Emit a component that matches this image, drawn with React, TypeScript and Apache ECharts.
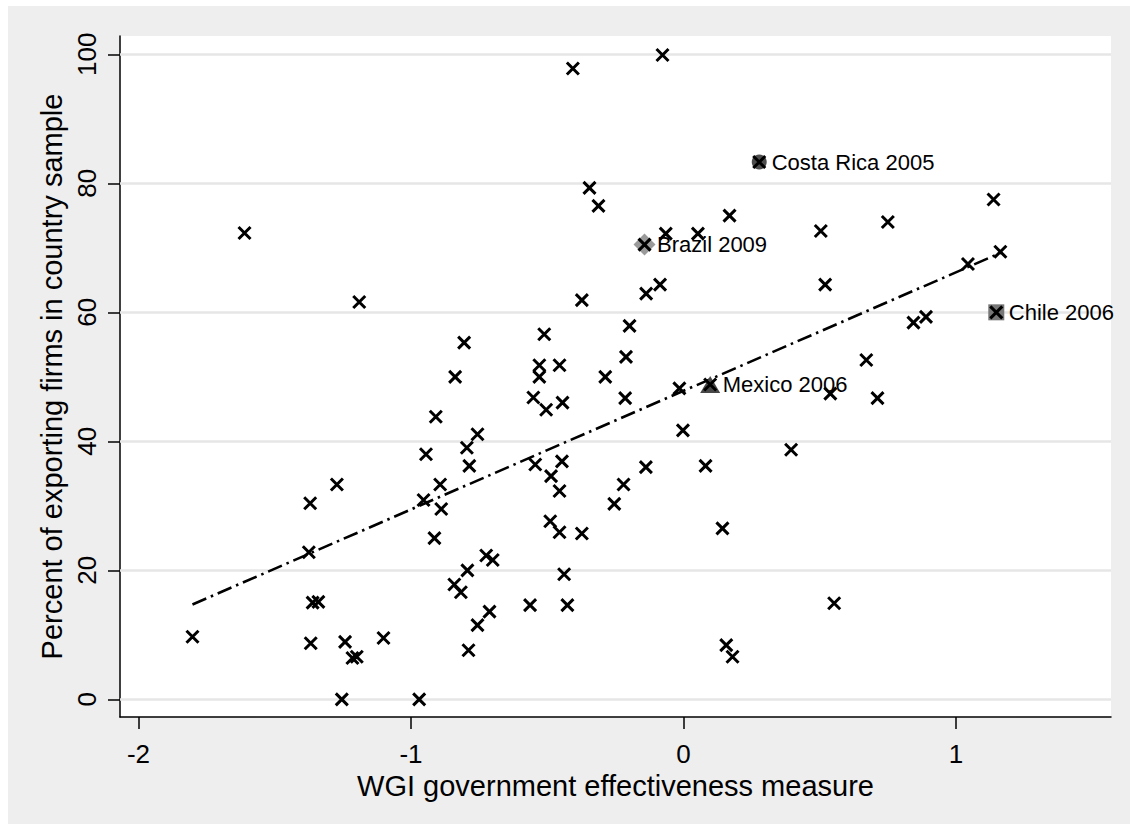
import React, { useEffect, useRef } from "react";
import * as echarts from "echarts";

// WGI government effectiveness (x) and percent of exporting firms (y)
const govEffectiveness = [
  -0.406, -0.345, -0.312, -1.611, -1.19, -0.373, -0.511, -0.805, -0.529, -0.455,
  -0.838, -0.529, -0.287, -0.551, -0.504, -0.444, -0.909, -0.756, -0.945, -0.795,
  -0.786, -0.544, -0.446, -0.486, -0.893, -0.455, -0.254, -0.22, -1.272, -1.37,
  -0.954, -0.889, -0.914, -0.489, -0.455, -0.373, -1.375, -0.724, -0.7, -0.793,
  -0.438, -0.841, -0.817, -1.361, -1.34, -0.563, -0.426, -0.712, -0.756, -1.802,
  -1.368, -1.242, -1.101, -1.215, -1.199, -0.789, -1.254, -0.97, -0.077, 1.138,
  0.75, 0.169, 0.504, -0.065, 0.053, 1.163, 1.044, 0.52, -0.086, -0.137,
  0.89, 0.844, -0.198, -0.211, 0.671, -0.214, -0.015, 0.539, 0.712, -0.002,
  0.395, -0.138, 0.081, 0.143, 0.553, 0.157, 0.18,
  0.278, -0.143, 0.098, 1.148,
];
const exportingPct = [
  97.8, 79.3, 76.5, 72.3, 61.6, 61.9, 56.6, 55.3, 51.8, 51.8,
  50.0, 50.0, 50.0, 46.8, 44.9, 46.0, 43.8, 41.1, 38.0, 39.0,
  36.2, 36.4, 36.9, 34.6, 33.3, 32.3, 30.3, 33.3, 33.3, 30.4,
  30.9, 29.5, 25.0, 27.6, 25.9, 25.7, 22.8, 22.3, 21.6, 20.0,
  19.4, 17.8, 16.6, 15.0, 15.1, 14.6, 14.6, 13.6, 11.5, 9.7,
  8.7, 8.9, 9.5, 6.4, 6.6, 7.6, 0.0, 0.0, 99.9, 77.5,
  74.0, 75.0, 72.6, 72.2, 72.2, 69.4, 67.5, 64.3, 64.3, 62.9,
  59.3, 58.4, 57.9, 53.1, 52.6, 46.7, 48.2, 47.4, 46.7, 41.7,
  38.7, 36.0, 36.2, 26.5, 14.9, 8.4, 6.6,
  83.3, 70.5, 48.8, 60.0,
];

const highlightNames = ["Costa Rica 2005", "Brazil 2009", "Mexico 2006", "Chile 2006"];
const highlightX = [0.278, -0.143, 0.098, 1.148];
const highlightY = [83.3, 70.5, 48.8, 60.0];

const fitX = [-1.802, 1.163];
const fitY = [14.7, 69.2];

const xTicks = [-2, -1, 0, 1];
const yTicks = [0, 20, 40, 60, 80, 100];

const FONT = "'Liberation Sans', Arial, Helvetica, sans-serif";

const highlightSymbols = ["circle", "diamond", "triangle", "rect"];
const highlightSizes: any[] = [15, 22, [20, 17], 16];
const highlightColors = ["#4d4d4d", "#9a9a9a", "#474747", "#777777"];
const highlightHalf = [7.5, 11, 10, 8];

export default function App() {
  const ref = useRef<HTMLDivElement>(null);

  useEffect(() => {
    if (!ref.current) return;
    const chart = echarts.init(ref.current, null, { renderer: "svg" });

    const option: any = {
      animation: false,
      backgroundColor: "#eeeeee",
      textStyle: { fontFamily: FONT },
      grid: {
        left: 112,
        top: 30,
        right: 19,
        bottom: 107,
        show: true,
        backgroundColor: "#ffffff",
        borderWidth: 0,
      },
      xAxis: {
        type: "value",
        min: -2.068,
        max: 1.569,
        name: "WGI government effectiveness measure",
        nameLocation: "middle",
        nameGap: 45,
        nameTextStyle: { fontSize: 29, color: "#000", fontFamily: FONT },
        axisLine: { show: true, onZero: false, lineStyle: { color: "#000", width: 1.5 } },
        axisTick: {
          show: true,
          length: 12,
          customValues: xTicks,
          lineStyle: { color: "#000", width: 1.5 },
        },
        axisLabel: {
          customValues: xTicks,
          fontSize: 26,
          color: "#000",
          margin: 24,
          fontFamily: FONT,
        },
        splitLine: { show: false },
      },
      yAxis: {
        type: "value",
        min: -2.74,
        max: 102.84,
        name: "Percent of exporting firms in country sample",
        nameLocation: "middle",
        nameGap: 47,
        nameTextStyle: { fontSize: 29, color: "#000", fontFamily: FONT },
        axisLine: { show: true, onZero: false, lineStyle: { color: "#000", width: 1.5 } },
        axisTick: {
          show: true,
          length: 12,
          customValues: yTicks,
          lineStyle: { color: "#000", width: 1.5 },
        },
        axisLabel: {
          customValues: yTicks,
          rotate: 90,
          fontSize: 26,
          color: "#000",
          margin: 20,
          fontFamily: FONT,
        },
        splitLine: { show: false },
      },
      series: [
        {
          type: "scatter",
          data: [],
          silent: true,
          z: 1,
          markLine: {
            silent: true,
            z: 1,
            symbol: "none",
            animation: false,
            label: { show: false },
            lineStyle: { color: "#e6e6e6", width: 2.5, type: "solid" },
            data: yTicks.map((v) => ({ yAxis: v })),
          },
        },
        {
          type: "line",
          z: 2,
          symbol: "none",
          silent: true,
          data: fitX.map((x, i) => [x, fitY[i]]),
          lineStyle: { color: "#000", width: 2.6, type: [15, 5, 2.5, 5] },
        },
        {
          type: "scatter",
          z: 3,
          silent: true,
          data: highlightX.map((x, i) => ({
            value: [x, highlightY[i]],
            symbol: highlightSymbols[i],
            symbolSize: highlightSizes[i],
            itemStyle: { color: highlightColors[i], opacity: 1 },
            label: {
              show: true,
              position: "right",
              distance: 12.5 - highlightHalf[i],
              formatter: highlightNames[i],
              fontSize: 22,
              color: "#000",
              fontFamily: FONT,
            },
          })),
        },
        {
          type: "scatter",
          z: 4,
          silent: true,
          symbol: "path://M0,0L10,10M10,0L0,10",
          symbolSize: 12,
          itemStyle: { color: "rgba(0,0,0,0)", borderColor: "#000", borderWidth: 3, opacity: 1 },
          data: govEffectiveness.map((x, i) => [x, exportingPct[i]]),
        },
      ],
    };

    chart.setOption(option);
    return () => chart.dispose();
  }, []);

  return (
    <div
      ref={ref}
      style={{ position: "absolute", left: 8, top: 6, width: 1122, height: 818 }}
    />
  );
}
